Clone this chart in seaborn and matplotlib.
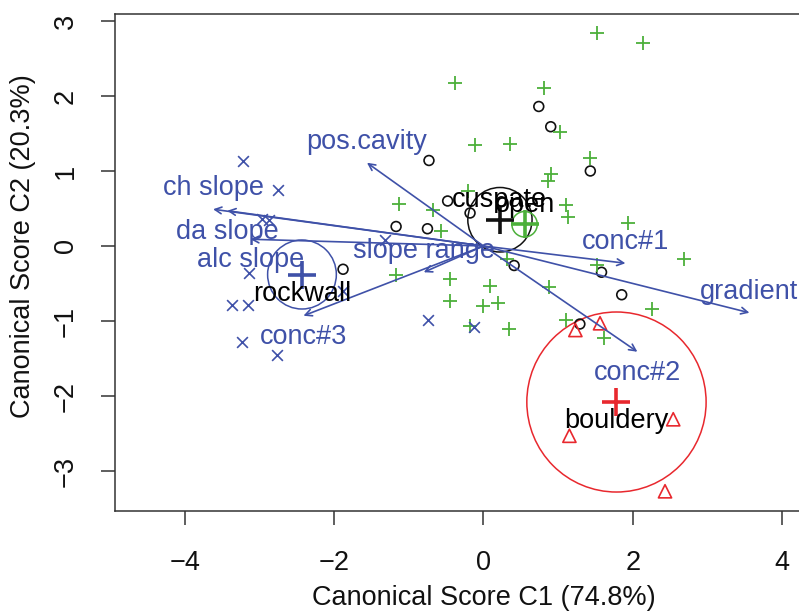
import matplotlib
matplotlib.use("Agg")
import matplotlib.pyplot as plt
import seaborn as sns
from matplotlib.patches import Circle

sns.set_style("white")
plt.rcParams['font.family'] = ['Liberation Sans', 'DejaVu Sans']

BLUE = '#3F51A8'
GREEN = '#4CB03A'
RED = '#E8282E'
BLACK = '#111111'

# observations per group (canonical scores C1, C2)
cuspate_x = [0.74, 0.90, -0.73, 1.43, -0.48, -0.18, -1.17, -0.75, 0.41, 1.58, 1.85, 1.29, -1.88, 0.24]
cuspate_y = [1.86, 1.59, 1.14, 1.00, 0.60, 0.44, 0.26, 0.23, -0.26, -0.35, -0.65, -1.04, -0.31, 0.59]

open_x = [1.52, 2.13, -0.38, 0.81, 1.02, -0.12, 0.36, 1.43, 0.91, 0.86, -0.21, -1.13, -0.68, 1.11, 1.13, -0.57,
          1.94, 2.69, 0.32, 1.52, -1.17, -0.45, 0.09, 0.88, -0.45, 0.00, 0.19, 2.26, 1.10, -0.18, 0.34, 1.61]
open_y = [2.84, 2.70, 2.17, 2.10, 1.52, 1.35, 1.36, 1.17, 0.96, 0.87, 0.73, 0.56, 0.48, 0.55, 0.38, 0.20,
          0.31, -0.18, -0.17, -0.25, -0.39, -0.44, -0.53, -0.55, -0.73, -0.80, -0.76, -0.84, -0.99, -1.07, -1.11, -1.22]

rockwall_x = [-3.22, -2.75, -2.96, -2.87, -3.14, -3.37, -3.15, -3.23, -2.77, -1.32, -0.74, -0.13, -1.88]
rockwall_y = [1.13, 0.74, 0.36, 0.34, -0.36, -0.78, -0.78, -1.28, -1.45, 0.08, -0.98, -1.08, -0.60]

bouldery_x = [1.23, 1.56, 2.54, 1.15, 2.43]
bouldery_y = [-1.12, -1.03, -2.31, -2.53, -3.27]

# group means and confidence circles
groups = ['rockwall', 'cuspate', 'open', 'bouldery']
cent_x = [-2.43, 0.22, 0.55, 1.78]
cent_y = [-0.38, 0.35, 0.29, -2.08]
cent_r = [0.46, 0.43, 0.17, 1.20]
cent_col = [BLUE, BLACK, GREEN, RED]
cent_side = [-1, 1, 1, -1]

# variable vectors
vars_ = ['pos.cavity', 'ch slope', 'da slope', 'alc slope', 'slope range', 'conc#3', 'conc#1', 'gradient', 'conc#2']
vec_x = [-1.56, -3.62, -3.43, -3.12, -0.80, -2.41, 1.90, 3.56, 2.06]
vec_y = [1.11, 0.49, 0.47, 0.09, -0.35, -0.93, -0.23, -0.89, -1.41]
vec_side = [1, 1, -1, -1, 1, -1, 1, 1, -1]

fig = plt.figure(figsize=(7.99, 6.13), dpi=100)
ax = fig.add_axes([115 / 799, 102 / 613, 693 / 799, 497 / 613])

# circles
for cx, cy, r, c in zip(cent_x, cent_y, cent_r, cent_col):
    ax.add_patch(Circle((cx, cy), r, fill=False, ec=c, lw=1.1, zorder=2))

# points
sns.scatterplot(x=cuspate_x, y=cuspate_y, marker='o', s=50, color=BLACK,
                facecolor='none', edgecolor=BLACK, linewidth=1.2, ax=ax, zorder=3)
sns.scatterplot(x=open_x, y=open_y, marker='+', s=100, color=GREEN, linewidth=1.3, ax=ax, zorder=3)
sns.scatterplot(x=rockwall_x, y=rockwall_y, marker='x', s=60, color=BLUE, linewidth=1.2, ax=ax, zorder=3)
sns.scatterplot(x=bouldery_x, y=bouldery_y, marker='^', s=90, color=RED,
                facecolor='none', edgecolor=RED, linewidth=1.2, ax=ax, zorder=3)

# arrows
for name, vx, vy, side in zip(vars_, vec_x, vec_y, vec_side):
    ax.annotate('', xy=(vx, vy), xytext=(0, 0),
                arrowprops=dict(arrowstyle='->', color=BLUE, lw=1.2, shrinkA=0, shrinkB=0,
                                mutation_scale=12), zorder=4)
    ax.annotate(name, xy=(vx, vy), xytext=(0, 15 * side), textcoords='offset points',
                ha='center', va='center', color=BLUE, fontsize=19.5, zorder=6)

# centroids
for g, cx, cy, c, side in zip(groups, cent_x, cent_y, cent_col, cent_side):
    sns.scatterplot(x=[cx], y=[cy], marker='+', s=380, color=c, linewidth=2.6, ax=ax, zorder=5)
    ax.annotate(g, xy=(cx, cy), xytext=(0, 14 * side), textcoords='offset points',
                ha='center', va='center', color='black', fontsize=19.5, zorder=6)

ax.set_xlim(-4.933, 4.344)
ax.set_ylim(-3.533, 3.093)
ax.set_xticks([-4, -2, 0, 2, 4])
ax.set_yticks([-3, -2, -1, 0, 1, 2, 3])
ax.tick_params(axis='both', direction='out', length=10, width=1.1, color='#333333',
               labelsize=19.5, labelcolor='#111111', bottom=True, left=True)
ax.tick_params(axis='x', pad=18)
ax.tick_params(axis='y', pad=16, labelrotation=90)
for lab in ax.get_yticklabels():
    lab.set_va('center')
for sp in ax.spines.values():
    sp.set_color('#333333')
    sp.set_linewidth(1.1)

ax.set_xlabel('Canonical Score C1 (74.8%)', fontsize=19.5, color='#111111', va='center')
ax.set_ylabel('Canonical Score C2 (20.3%)', fontsize=19.5, color='#111111', va='center')
ax.xaxis.set_label_coords((483.5 - 115) / 693, (511 - 598) / 497)
ax.yaxis.set_label_coords((23 - 115) / 693, (511 - 246) / 497)

fig.savefig('out.png', dpi=100)
